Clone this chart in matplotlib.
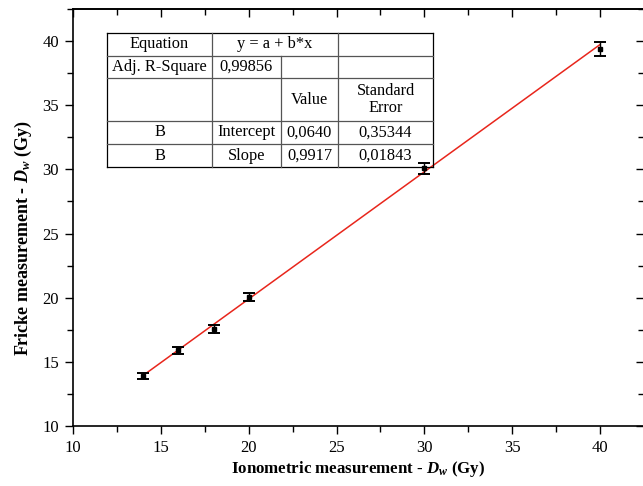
import numpy as np
import matplotlib.pyplot as plt
from matplotlib.lines import Line2D
from matplotlib.ticker import MultipleLocator

# ---- data ----
ion_dose = [14, 16, 18, 20, 30, 40]
fricke_dose = [13.9, 15.9, 17.55, 20.08, 30.08, 39.4]
fricke_err = [0.26, 0.29, 0.31, 0.31, 0.42, 0.55]

intercept = 0.0640
slope = 0.9917

table_rows = [
    ["Equation", "y = a + b*x", None, ""],
    ["Adj. R-Square", "0,99856", "", ""],
    ["", "", "Value", "Standard\nError"],
    ["B", "Intercept", "0,0640", "0,35344"],
    ["B", "Slope", "0,9917", "0,01843"],
]

plt.rcParams['font.family'] = ['Liberation Serif', 'DejaVu Serif']
plt.rcParams['mathtext.fontset'] = 'custom'
plt.rcParams['mathtext.rm'] = 'Liberation Serif'
plt.rcParams['mathtext.it'] = 'Liberation Serif:italic'
plt.rcParams['mathtext.bf'] = 'Liberation Serif:bold'
plt.rcParams['mathtext.bfit'] = 'Liberation Serif:bold:italic'

W, H = 643, 486
fig = plt.figure(figsize=(W / 100, H / 100), dpi=100)
ax = fig.add_axes([73 / W, 60 / H, 571 / W, 417 / H])

# fitted line
xf = np.array([min(ion_dose), max(ion_dose)])
ax.plot(xf, intercept + slope * xf, color='#e8261c', lw=1.1, zorder=2)

# points with error bars
ax.errorbar(ion_dose, fricke_dose, yerr=fricke_err, fmt='s', color='black',
            ms=3.5, capsize=4, elinewidth=1.0, capthick=1.4, zorder=3)

ax.set_xlim(10, 42.5)
ax.set_ylim(10, 42.5)
for a in [ax.xaxis, ax.yaxis]:
    a.set_major_locator(MultipleLocator(5))
    a.set_minor_locator(MultipleLocator(2.5))

ax.tick_params(which='both', direction='out', labelsize=12, width=1.0, pad=4)
ax.tick_params(which='major', length=6)
ax.tick_params(which='minor', length=4)
for s in ax.spines.values():
    s.set_linewidth(1.2)

# top and right axes with inward ticks, no labels
top = ax.secondary_xaxis('top')
top.xaxis.set_major_locator(MultipleLocator(5))
top.xaxis.set_minor_locator(MultipleLocator(2.5))
right = ax.secondary_yaxis('right')
right.yaxis.set_major_locator(MultipleLocator(5))
right.yaxis.set_minor_locator(MultipleLocator(2.5))
for sec in [top, right]:
    sec.tick_params(which='both', direction='in', width=1.0, labeltop=False, labelright=False)
    sec.tick_params(which='major', length=6)
    sec.tick_params(which='minor', length=4)
    for s in sec.spines.values():
        s.set_linewidth(1.2)

ax.set_xlabel(r'Ionometric measurement - $\mathbfit{D}_\mathbfit{w}$ (Gy)',
              fontsize=12.2, fontweight='bold', labelpad=2)
ax.set_ylabel(r'Fricke measurement - $\mathbfit{D}_\mathbfit{w}$ (Gy)',
              fontsize=13, fontweight='bold')
ax.yaxis.set_label_coords(-0.068, 0.45)

# ---- fit result table (Origin style) ----
col_x = [107, 212, 281, 338, 433]
row_y = [33, 56, 78, 121, 144, 167]


def fx(px):
    return px / W


def fy(py):
    return 1 - py / H


lw = 0.9
# outer box
for y in [row_y[0], row_y[-1]]:
    fig.add_artist(Line2D([fx(col_x[0]), fx(col_x[-1])], [fy(y), fy(y)], color='black', lw=lw))
for x in [col_x[0], col_x[-1]]:
    fig.add_artist(Line2D([fx(x), fx(x)], [fy(row_y[0]), fy(row_y[-1])], color='black', lw=lw))
# inner horizontal lines
for y in row_y[1:-1]:
    fig.add_artist(Line2D([fx(col_x[0]), fx(col_x[-1])], [fy(y), fy(y)], color='#555555', lw=lw))
# inner vertical lines
for j, x in enumerate(col_x[1:-1], start=1):
    top_y = row_y[1] if j == 2 else row_y[0]
    fig.add_artist(Line2D([fx(x), fx(x)], [fy(top_y), fy(row_y[-1])], color='#555555', lw=lw))

for i, row in enumerate(table_rows):
    yc = (row_y[i] + row_y[i + 1]) / 2
    for j, txt in enumerate(row):
        if txt is None or txt == "":
            continue
        if i == 0 and j == 1:
            xc = (col_x[1] + col_x[3]) / 2
        else:
            xc = (col_x[j] + col_x[j + 1]) / 2
        fig.text(fx(xc), fy(yc), txt, ha='center', va='center', fontsize=11.8,
                 linespacing=1.1)

fig.savefig('out.png', dpi=100)
